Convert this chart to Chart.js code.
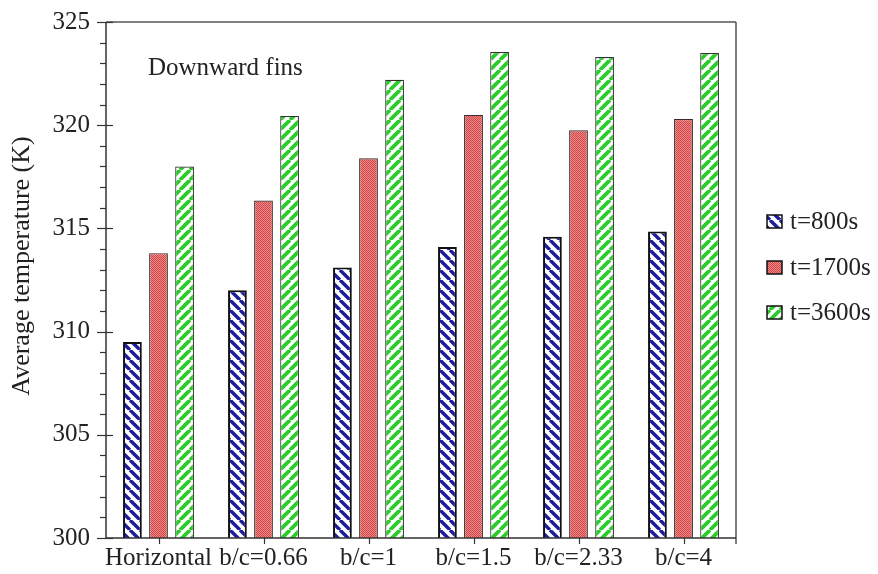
<!DOCTYPE html>
<html>
<head>
<meta charset="utf-8">
<script src="https://cdn.jsdelivr.net/npm/chart.js@4"></script>
<style>
  html, body { margin: 0; padding: 0; background: #fff; }
  #wrap { width: 878px; height: 574px; }
</style>
</head>
<body>
<div id="wrap"><canvas id="c" width="878" height="574"></canvas></div>
<script>
// Fin configurations on the category axis
const categories = ['Horizontal', 'b/c=0.66', 'b/c=1', 'b/c=1.5', 'b/c=2.33', 'b/c=4'];
// Series labels (time instants)
const seriesNames = ['t=800s', 't=1700s', 't=3600s'];
// Average temperature (K) for each configuration
const t800  = [309.5, 312.0, 313.1, 314.1, 314.6, 314.85];
const t1700 = [313.8, 316.35, 318.4, 320.5, 319.75, 320.3];
const t3600 = [318.0, 320.45, 322.2, 323.55, 323.3, 323.5];
// Y axis range and labelled ticks
const yTicks = [300, 305, 310, 315, 320, 325];
const annotationText = 'Downward fins';
const yTitle = 'Average temperature (K)';

const FONT = "'Liberation Serif', 'Times New Roman', serif";
const TEXT = '#222';

const canvas = document.getElementById('c');
const ctx = canvas.getContext('2d');

// Hatch tile: diagonal lines on white, dir > 0 is '/', dir < 0 is '\'
function hatch(color, size, lw, dir) {
  const t = document.createElement('canvas');
  t.width = t.height = size;
  const g = t.getContext('2d');
  g.fillStyle = '#fff';
  g.fillRect(0, 0, size, size);
  g.strokeStyle = color;
  g.lineWidth = lw;
  g.beginPath();
  for (let k = -1; k <= 1; k++) {
    if (dir > 0) { g.moveTo(k * size, size); g.lineTo(k * size + size, 0); }
    else { g.moveTo(k * size, 0); g.lineTo(k * size + size, size); }
  }
  g.stroke();
  return ctx.createPattern(t, 'repeat');
}

// Fine red dot texture
function dots() {
  const t = document.createElement('canvas');
  t.width = t.height = 2;
  const g = t.getContext('2d');
  g.fillStyle = '#f08a8a';
  g.fillRect(0, 0, 2, 2);
  g.fillStyle = '#cf4646';
  g.fillRect(0, 0, 1, 1);
  g.fillRect(1, 1, 1, 1);
  return ctx.createPattern(t, 'repeat');
}

const fills = [hatch('#1c1c9c', 10, 3.4, -1), dots(), hatch('#2bcc2b', 10, 3.8, 1)];
const borders = ['#111', '#3a2a2a', '#333'];
const borderWidths = [2, 1.2, 1.2];
const values = [t800, t1700, t3600];

const decorations = {
  id: 'decorations',
  afterDraw(chart) {
    const c = chart.ctx;
    const a = chart.chartArea;
    const y = chart.scales.y;
    const x = chart.scales.x;
    c.save();

    // frame: top and right in grey, axes in near-black
    c.lineWidth = 1.5;
    c.strokeStyle = '#555';
    c.beginPath();
    c.moveTo(a.left, a.top); c.lineTo(a.right, a.top);
    c.moveTo(a.right, a.top); c.lineTo(a.right, a.bottom + 6);
    c.stroke();
    c.strokeStyle = '#333';
    c.beginPath();
    c.moveTo(a.left, a.top); c.lineTo(a.left, a.bottom);
    c.moveTo(a.left, a.bottom); c.lineTo(a.right, a.bottom);
    c.stroke();

    // y ticks: minor every 1 K outside, major every 5 K crossing the axis
    c.lineWidth = 1.2;
    for (let v = y.min; v <= y.max; v += 1) {
      const py = Math.round(y.getPixelForValue(v)) + 0.5;
      c.beginPath();
      if (v % 5 === 0) { c.moveTo(a.left - 9, py); c.lineTo(a.left + 7, py); }
      else { c.moveTo(a.left - 6, py); c.lineTo(a.left, py); }
      c.stroke();
    }
    // x ticks at category centres
    categories.forEach((_, i) => {
      const px = Math.round(x.getPixelForValue(i)) + 0.5;
      c.beginPath();
      c.moveTo(px, a.bottom); c.lineTo(px, a.bottom + 6);
      c.stroke();
    });

    // rotated y title
    c.fillStyle = TEXT;
    c.font = '26px ' + FONT;
    c.textAlign = 'center';
    c.textBaseline = 'middle';
    c.translate(22, 266);
    c.rotate(-Math.PI / 2);
    c.fillText(yTitle, 0, 0);
    c.setTransform(1, 0, 0, 1, 0, 0);

    // annotation inside the plot
    c.font = '25px ' + FONT;
    c.textAlign = 'left';
    c.fillText(annotationText, 148, 68);

    // legend on the right
    const rows = [222, 268, 313];
    chart.data.datasets.forEach((ds, i) => {
      const ry = rows[i];
      c.fillStyle = ds.backgroundColor;
      c.fillRect(767, ry - 7, 15, 13);
      c.strokeStyle = '#111';
      c.lineWidth = 1.5;
      c.strokeRect(767, ry - 7, 15, 13);
      c.fillStyle = TEXT;
      c.fillText(ds.label, 790, ry);
    });
    c.restore();
  }
};

function noPad(s) {
  s.paddingTop = 0; s.paddingBottom = 0; s.paddingLeft = 0; s.paddingRight = 0;
}

new Chart(canvas, {
  type: 'bar',
  data: {
    labels: categories,
    datasets: seriesNames.map((name, i) => ({
      label: name,
      data: values[i],
      backgroundColor: fills[i],
      borderColor: borders[i],
      borderWidth: borderWidths[i],
      categoryPercentage: 0.745,
      barPercentage: 0.72
    }))
  },
  options: {
    responsive: false,
    animation: false,
    devicePixelRatio: 1,
    layout: { padding: { top: 22, right: 142, left: 0, bottom: 0 } },
    plugins: { legend: { display: false }, tooltip: { enabled: false } },
    scales: {
      x: {
        grid: { display: false, drawTicks: false },
        border: { display: false },
        ticks: { font: { family: FONT, size: 25 }, color: TEXT, padding: 5, maxRotation: 0, minRotation: 0, autoSkip: false },
        afterFit(s) { s.height = 36; noPad(s); }
      },
      y: {
        min: yTicks[0],
        max: yTicks[yTicks.length - 1],
        grid: { display: false, drawTicks: false },
        border: { display: false },
        afterBuildTicks(s) { s.ticks = yTicks.map(v => ({ value: v })); },
        ticks: { font: { family: FONT, size: 25 }, color: TEXT, padding: 16 },
        afterFit(s) { s.width = 106; noPad(s); }
      }
    }
  },
  plugins: [decorations]
});
</script>
</body>
</html>
